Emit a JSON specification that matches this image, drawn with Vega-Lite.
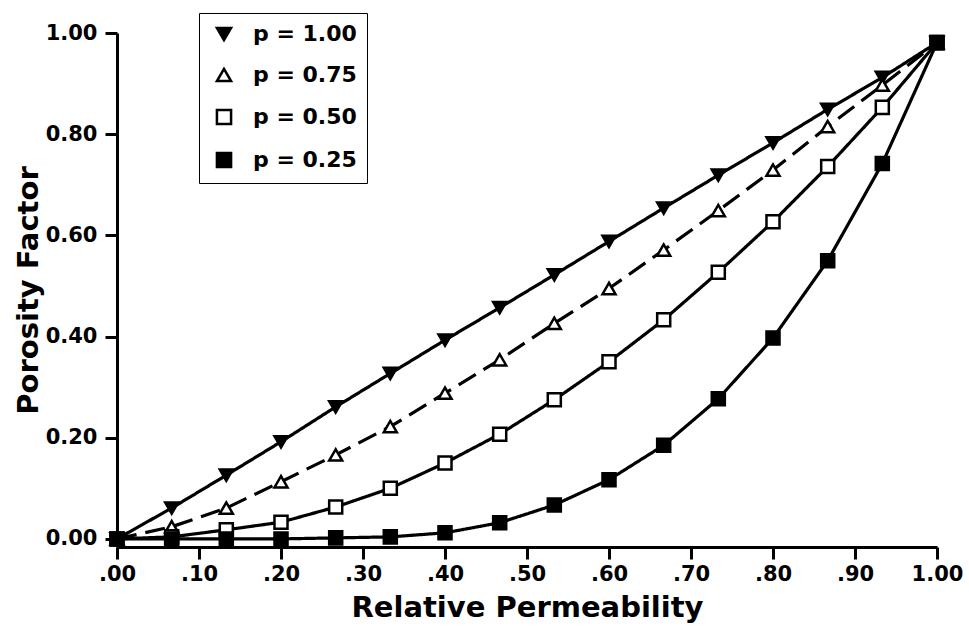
{
  "$schema": "https://vega.github.io/schema/vega-lite/v6.json",
  "width": 820,
  "height": 514,
  "autosize": "none",
  "padding": {"left": 117, "top": 33, "right": 32, "bottom": 95},
  "background": "white",
  "config": {
    "view": {"stroke": null},
    "font": "DejaVu Sans"
  },
  "data": {
    "values": [
      {"x": 0.0, "y": 0.0, "p": "1.00"},
      {"x": 0.0667, "y": 0.061, "p": "1.00"},
      {"x": 0.1333, "y": 0.126, "p": "1.00"},
      {"x": 0.2, "y": 0.192, "p": "1.00"},
      {"x": 0.2667, "y": 0.261, "p": "1.00"},
      {"x": 0.3333, "y": 0.327, "p": "1.00"},
      {"x": 0.4, "y": 0.393, "p": "1.00"},
      {"x": 0.4667, "y": 0.457, "p": "1.00"},
      {"x": 0.5333, "y": 0.522, "p": "1.00"},
      {"x": 0.6, "y": 0.588, "p": "1.00"},
      {"x": 0.6667, "y": 0.654, "p": "1.00"},
      {"x": 0.7333, "y": 0.719, "p": "1.00"},
      {"x": 0.8, "y": 0.783, "p": "1.00"},
      {"x": 0.8667, "y": 0.849, "p": "1.00"},
      {"x": 0.9333, "y": 0.912, "p": "1.00"},
      {"x": 1.0, "y": 0.981, "p": "1.00"},
      {"x": 0.0, "y": 0.0, "p": "0.75"},
      {"x": 0.0667, "y": 0.024, "p": "0.75"},
      {"x": 0.1333, "y": 0.061, "p": "0.75"},
      {"x": 0.2, "y": 0.113, "p": "0.75"},
      {"x": 0.2667, "y": 0.166, "p": "0.75"},
      {"x": 0.3333, "y": 0.222, "p": "0.75"},
      {"x": 0.4, "y": 0.288, "p": "0.75"},
      {"x": 0.4667, "y": 0.354, "p": "0.75"},
      {"x": 0.5333, "y": 0.426, "p": "0.75"},
      {"x": 0.6, "y": 0.495, "p": "0.75"},
      {"x": 0.6667, "y": 0.571, "p": "0.75"},
      {"x": 0.7333, "y": 0.649, "p": "0.75"},
      {"x": 0.8, "y": 0.729, "p": "0.75"},
      {"x": 0.8667, "y": 0.815, "p": "0.75"},
      {"x": 0.9333, "y": 0.897, "p": "0.75"},
      {"x": 1.0, "y": 0.981, "p": "0.75"},
      {"x": 0.0, "y": 0.0, "p": "0.50"},
      {"x": 0.0667, "y": 0.004, "p": "0.50"},
      {"x": 0.1333, "y": 0.018, "p": "0.50"},
      {"x": 0.2, "y": 0.033, "p": "0.50"},
      {"x": 0.2667, "y": 0.063, "p": "0.50"},
      {"x": 0.3333, "y": 0.1, "p": "0.50"},
      {"x": 0.4, "y": 0.15, "p": "0.50"},
      {"x": 0.4667, "y": 0.207, "p": "0.50"},
      {"x": 0.5333, "y": 0.275, "p": "0.50"},
      {"x": 0.6, "y": 0.35, "p": "0.50"},
      {"x": 0.6667, "y": 0.433, "p": "0.50"},
      {"x": 0.7333, "y": 0.527, "p": "0.50"},
      {"x": 0.8, "y": 0.627, "p": "0.50"},
      {"x": 0.8667, "y": 0.736, "p": "0.50"},
      {"x": 0.9333, "y": 0.853, "p": "0.50"},
      {"x": 1.0, "y": 0.981, "p": "0.50"},
      {"x": 0.0, "y": 0.0, "p": "0.25"},
      {"x": 0.0667, "y": 0.0, "p": "0.25"},
      {"x": 0.1333, "y": 0.0, "p": "0.25"},
      {"x": 0.2, "y": 0.0, "p": "0.25"},
      {"x": 0.2667, "y": 0.002, "p": "0.25"},
      {"x": 0.3333, "y": 0.004, "p": "0.25"},
      {"x": 0.4, "y": 0.012, "p": "0.25"},
      {"x": 0.4667, "y": 0.032, "p": "0.25"},
      {"x": 0.5333, "y": 0.067, "p": "0.25"},
      {"x": 0.6, "y": 0.117, "p": "0.25"},
      {"x": 0.6667, "y": 0.185, "p": "0.25"},
      {"x": 0.7333, "y": 0.277, "p": "0.25"},
      {"x": 0.8, "y": 0.397, "p": "0.25"},
      {"x": 0.8667, "y": 0.55, "p": "0.25"},
      {"x": 0.9333, "y": 0.742, "p": "0.25"},
      {"x": 1.0, "y": 0.981, "p": "0.25"}
    ]
  },
  "encoding": {
    "x": {
      "field": "x",
      "type": "quantitative",
      "scale": {"domain": [0, 1], "nice": false, "zero": false},
      "axis": {
        "values": [0, 0.1, 0.2, 0.3, 0.4, 0.5, 0.6, 0.7, 0.8, 0.9, 1.0],
        "labelExpr": "datum.value >= 0.999 ? '1.00' : replace(format(datum.value, '.2f'), '0.', '.')",
        "grid": false,
        "domainColor": "black",
        "domainWidth": 3,
        "tickColor": "black",
        "tickWidth": 3,
        "tickSize": 12,
        "labelPadding": 4,
        "labelFontSize": 21,
        "labelFontWeight": "bold",
        "labelColor": "black",
        "labelFlush": false,
        "labelOverlap": false,
        "labelBound": false,
        "title": "Relative Permeability",
        "titleFontSize": 29,
        "titleFontWeight": "bold",
        "titleColor": "black",
        "titlePadding": 9
      }
    },
    "y": {
      "field": "y",
      "type": "quantitative",
      "scale": {"domain": [-0.016, 1], "nice": false, "zero": false},
      "axis": {
        "values": [0, 0.2, 0.4, 0.6, 0.8, 1.0],
        "format": ".2f",
        "grid": false,
        "domainColor": "black",
        "domainWidth": 3,
        "tickColor": "black",
        "tickWidth": 3,
        "tickSize": 12,
        "labelPadding": 8,
        "labelFontSize": 21,
        "labelFontWeight": "bold",
        "labelColor": "black",
        "labelFlush": false,
        "labelOverlap": false,
        "labelBound": false,
        "title": "Porosity Factor",
        "titleFontSize": 29,
        "titleFontWeight": "bold",
        "titleColor": "black",
        "titlePadding": 2
      }
    }
  },
  "layer": [
    {
      "mark": {"type": "line", "strokeWidth": 3.2, "color": "black"},
      "encoding": {
        "detail": {"field": "p", "type": "nominal"},
        "strokeDash": {
          "condition": {"test": "datum.p === '0.75'", "value": [20, 9]},
          "value": [1, 0]
        }
      }
    },
    {
      "mark": {"type": "point", "size": 170, "strokeWidth": 2.5, "opacity": 1},
      "encoding": {
        "shape": {
          "field": "p",
          "type": "nominal",
          "scale": {
            "domain": ["1.00", "0.75", "0.50", "0.25"],
            "range": ["triangle-down", "triangle-up", "square", "square"]
          },
          "legend": {
            "title": null,
            "orient": "none",
            "legendX": 82,
            "legendY": -20,
            "padding": 10,
            "rowPadding": 17,
            "strokeColor": "black",
            "symbolSize": 200,
            "symbolStrokeWidth": 2.5,
            "symbolStrokeColor": "black",
            "symbolOffset": 4,
            "labelOffset": 18,
            "labelFontSize": 22,
            "labelFontWeight": "bold",
            "labelColor": "black",
            "labelFont": "DejaVu Sans",
            "labelExpr": "'p = ' + datum.label"
          }
        },
        "stroke": {
          "field": "p",
          "type": "nominal",
          "scale": {
            "domain": ["1.00", "0.75", "0.50", "0.25"],
            "range": ["black", "black", "black", "black"]
          },
          "legend": {
            "title": null,
            "orient": "none",
            "legendX": 82,
            "legendY": -20,
            "padding": 10,
            "rowPadding": 17,
            "strokeColor": "black",
            "symbolSize": 200,
            "symbolStrokeWidth": 2.5,
            "symbolStrokeColor": "black",
            "symbolOffset": 4,
            "labelOffset": 18,
            "labelFontSize": 22,
            "labelFontWeight": "bold",
            "labelColor": "black",
            "labelFont": "DejaVu Sans",
            "labelExpr": "'p = ' + datum.label"
          }
        },
        "fill": {
          "field": "p",
          "type": "nominal",
          "scale": {
            "domain": ["1.00", "0.75", "0.50", "0.25"],
            "range": ["black", "white", "white", "black"]
          },
          "legend": {
            "title": null,
            "orient": "none",
            "legendX": 82,
            "legendY": -20,
            "padding": 10,
            "rowPadding": 17,
            "strokeColor": "black",
            "symbolSize": 200,
            "symbolStrokeWidth": 2.5,
            "symbolStrokeColor": "black",
            "symbolOffset": 4,
            "labelOffset": 18,
            "labelFontSize": 22,
            "labelFontWeight": "bold",
            "labelColor": "black",
            "labelFont": "DejaVu Sans",
            "labelExpr": "'p = ' + datum.label"
          }
        }
      }
    }
  ]
}
